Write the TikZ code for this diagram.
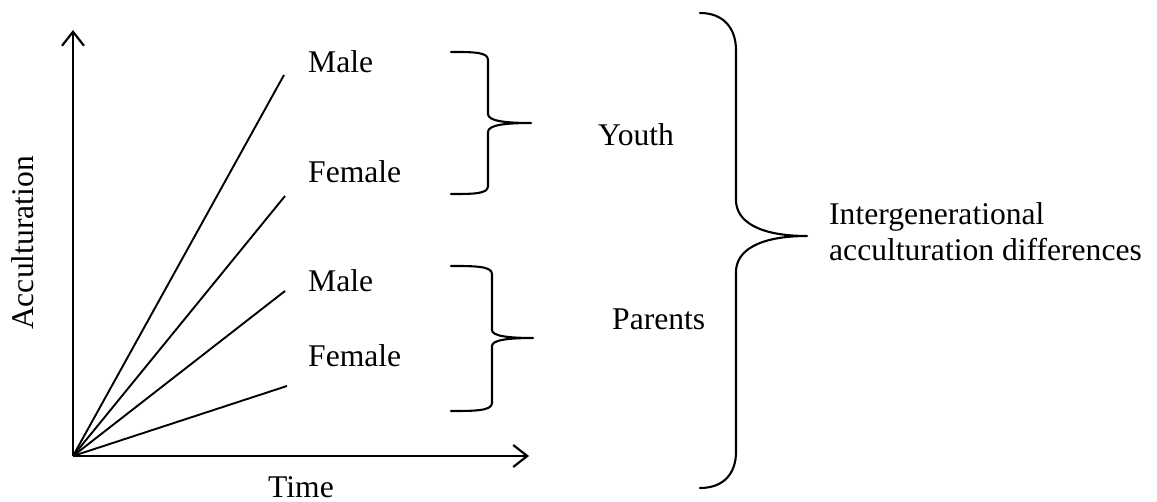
\documentclass[tikz,border=0pt]{standalone}
\usepackage{fontspec}
\setmainfont[Ligatures=NoCommon]{Liberation Serif}
\usetikzlibrary{arrows.meta}
\begin{document}
\begin{tikzpicture}[x=1pt,y=-1pt,
  lbl/.style={inner sep=0pt, font=\fontsize{31.6}{36}\selectfont},
  axis/.style={line width=2.2pt, -{Straight Barb[length=14pt,width=22pt]}},
  ray/.style={line width=1.9pt},
  brace/.style={line width=2.1pt, line join=round, line cap=round}]
\useasboundingbox (0,0) rectangle (1157,502);

% axes
\coordinate (O) at (73,456);
\coordinate (ytop) at (73,30);
\coordinate (xend) at (529,456);
\draw[axis] (O) -- (ytop);
\draw[axis] (O) -- (xend);
\node[lbl, anchor=base] (time) at (301,497) {Time};
\node[lbl, rotate=90, anchor=base] (acc) at (33,243) {Acculturation};

% growth lines
\coordinate (ym) at (284,75);
\coordinate (yf) at (285,196);
\coordinate (pm) at (285,291);
\coordinate (pf) at (287,386);
\draw[ray] (O) -- (ym);
\draw[ray] (O) -- (yf);
\draw[ray] (O) -- (pm);
\draw[ray] (O) -- (pf);

% line labels
\node[lbl, anchor=base west] (ymale) at (308,73) {Male};
\node[lbl, anchor=base west] (yfemale) at (308,183) {Female};
\node[lbl, anchor=base west] (pmale) at (308,292) {Male};
\node[lbl, anchor=base west] (pfemale) at (308,367) {Female};

% youth brace
\draw[brace] (451,52) .. controls (474,52) and (488,52) .. (488,60) -- (488,114)
  .. controls (488,121) and (505,123) .. (531,123)
  .. controls (505,123) and (488,125) .. (488,132) -- (488,186)
  .. controls (488,194) and (474,194) .. (451,194);
\node[lbl, anchor=base west] (youth) at (598,146) {Youth};

% parents brace
\draw[brace] (451,266) .. controls (474,266) and (492,266) .. (492,274) -- (492,330)
  .. controls (492,336) and (508,338) .. (533,338)
  .. controls (508,338) and (492,340) .. (492,346) -- (492,403)
  .. controls (492,411) and (474,411) .. (451,411);
\node[lbl, anchor=base west] (parents) at (612,330) {Parents};

% outer brace
\draw[brace] (700,13) .. controls (725,13) and (736,30) .. (736,50) -- (736,200)
  .. controls (736,222) and (760,236) .. (807,236)
  .. controls (760,236) and (736,250) .. (736,272) -- (736,452)
  .. controls (736,472) and (725,488) .. (700,488);
\node[lbl, anchor=base west] (inter) at (829,225) {Intergenerational};
\node[lbl, anchor=base west] (diff) at (829,261) {acculturation differences};
\end{tikzpicture}
\end{document}
